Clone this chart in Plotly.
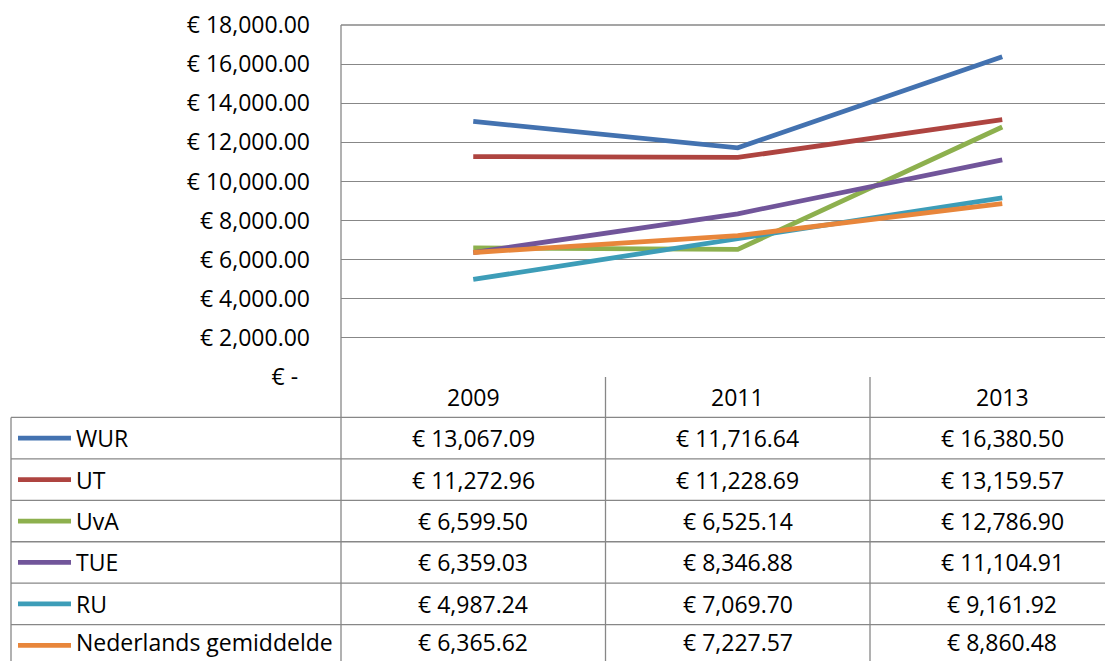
import plotly.graph_objects as go

years = ["2009", "2011", "2013"]
series_names = ["WUR", "UT", "UvA", "TUE", "RU", "Nederlands gemiddelde"]
wur = [13067.09, 11716.64, 16380.50]
ut = [11272.96, 11228.69, 13159.57]
uva = [6599.50, 6525.14, 12786.90]
tue = [6359.03, 8346.88, 11104.91]
ru = [4987.24, 7069.70, 9161.92]
ned = [6365.62, 7227.57, 8860.48]
series_values = [wur, ut, uva, tue, ru, ned]
colors = ["#4372B0", "#AE4440", "#8DB04E", "#71559A", "#3D9DB8", "#E8863B"]
ytick_vals = [0, 2000, 4000, 6000, 8000, 10000, 12000, 14000, 16000, 18000]

# page body has an 8px margin; work in window pixels and convert
OFF = 8
W, H = 1113 - OFF, 661 - OFF
L, T = 341 - OFF, 23 - OFF
PLOT_BOTTOM = 377 - OFF
R, B = 0, H - PLOT_BOTTOM
PW, PH = W - L - R, H - T - B
FONT = "Open Sans"
FS = 23
GRID = "#878787"
COLW = 264.5


def px(x):
    return (x - OFF - L) / PW


def py(y):
    return (H - B - (y - OFF)) / PH


def fmt(v):
    if v == 0:
        return "€ -\u00a0\u00a0"
    return "€ " + f"{v:,.2f}"


fig = go.Figure()
for name, vals, c in zip(series_names, series_values, colors):
    fig.add_trace(go.Scatter(x=list(range(len(years))), y=vals, mode="lines", name=name,
                             line=dict(color=c, width=4.8), showlegend=False))

shapes = []
annotations = []

row_edges = [377, 417.7, 459.3, 501, 542.7, 584.3, 626, 668]
text_centers = [(row_edges[i] + row_edges[i + 1]) / 2 for i in range(len(row_edges) - 1)]
text_centers[-1] = 644
table_left = 11
lw = 1.3

shapes.append(dict(type="line", xref="paper", yref="paper", x0=0, x1=1.05, y0=1, y1=1,
                   line=dict(color=GRID, width=lw)))
for y in row_edges[1:]:
    shapes.append(dict(type="line", xref="paper", yref="paper", x0=px(table_left), x1=1.05,
                       y0=py(y), y1=py(y), line=dict(color=GRID, width=lw)))
shapes.append(dict(type="line", xref="paper", yref="paper", x0=px(table_left), x1=px(table_left),
                   y0=py(row_edges[1]), y1=py(row_edges[-1]), line=dict(color=GRID, width=lw)))
shapes.append(dict(type="line", xref="paper", yref="paper", x0=0, x1=0,
                   y0=1, y1=py(row_edges[-1]), line=dict(color=GRID, width=lw)))
for k in range(len(years)):
    shapes.append(dict(type="line", xref="x", yref="paper", x0=k + 0.5, x1=k + 0.5,
                       y0=0, y1=py(row_edges[-1]), line=dict(color=GRID, width=lw)))

for k, yr in enumerate(years):
    annotations.append(dict(x=k, y=py(text_centers[0]), xref="x", yref="paper",
                            text=yr, showarrow=False, font=dict(family=FONT, size=FS, color="black"),
                            xanchor="center", yanchor="middle"))

for i, (name, vals, c) in enumerate(zip(series_names, series_values, colors)):
    yc = text_centers[i + 1]
    yl = (row_edges[i + 1] + row_edges[i + 2]) / 2
    shapes.append(dict(type="line", xref="paper", yref="paper", x0=px(18), x1=px(71),
                       y0=py(yl), y1=py(yl), line=dict(color=c, width=4.8)))
    annotations.append(dict(x=px(74), y=py(yc), xref="paper", yref="paper", text=name,
                            showarrow=False, font=dict(family=FONT, size=FS, color="black"),
                            xanchor="left", yanchor="middle"))
    for k, v in enumerate(vals):
        annotations.append(dict(x=k, y=py(yc), xref="x", yref="paper", text=fmt(v),
                                showarrow=False, font=dict(family=FONT, size=FS, color="black"),
                                xanchor="center", yanchor="middle"))

fig.update_layout(
    width=W, height=H,
    margin=dict(l=L, r=R, t=T, b=B),
    paper_bgcolor="white", plot_bgcolor="white",
    xaxis=dict(range=[-0.5, -0.5 + PW / COLW], showticklabels=False, showgrid=False,
               zeroline=False, showline=False, ticks=""),
    yaxis=dict(range=[0, 18000], tickvals=ytick_vals, ticktext=[fmt(v) for v in ytick_vals],
               showgrid=True, gridcolor=GRID, gridwidth=lw, zeroline=False, showline=False,
               ticks="", ticklabelstandoff=30, ticklabeloverflow="allow",
               tickfont=dict(family=FONT, size=FS, color="black")),
    shapes=shapes, annotations=annotations,
    showlegend=False,
)

fig.write_html("out.html")
